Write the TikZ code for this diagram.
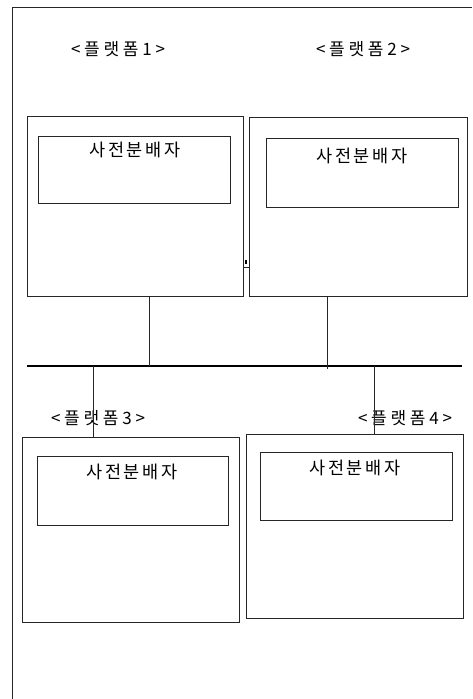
\documentclass[tikz,border=0pt]{standalone}
\usepackage{fontspec}
\newfontfamily\kr[LetterSpace=16]{Noto Sans CJK KR}
\newfontfamily\krl[LetterSpace=22]{Noto Sans CJK KR}
\begin{document}
\begin{tikzpicture}[x=1pt,y=-1pt,
  thin line/.style={line width=1pt,draw=black!85},
  outerbox/.style={thin line,rectangle,anchor=north west,inner sep=0pt},
  innerbox/.style={thin line,rectangle,anchor=north west,inner sep=0pt},
  dtext/.style={font=\kr\fontsize{17.5}{19}\selectfont,anchor=center,inner sep=0pt},
  plabel/.style={font=\krl\fontsize{17}{19}\selectfont,anchor=center,inner sep=0pt},
  bus/.style={line width=1.8pt}]
\useasboundingbox (0,0) rectangle (472,699);
% frame
\draw[thin line] (12,699) -- (12,7) -- (472,7);
% labels
\node[plabel] (l1) at (118,49) {<플랫폼1>};
\node[plabel] (l2) at (363,49) {<플랫폼2>};
\node[plabel] (l3) at (98,418) {<플랫폼3>};
\node[plabel] (l4) at (405,418) {<플랫폼4>};
% platform boxes
\node[outerbox,minimum width=216pt,minimum height=180pt] (b1) at (27,116) {};
\node[outerbox,minimum width=218pt,minimum height=179pt] (b2) at (249,117) {};
\node[outerbox,minimum width=217pt,minimum height=185pt] (b3) at (22,437) {};
\node[outerbox,minimum width=217pt,minimum height=184pt] (b4) at (246,434) {};
% inner boxes
\node[innerbox,minimum width=192pt,minimum height=67pt] (i1) at (38,136) {};
\node[innerbox,minimum width=192pt,minimum height=69pt] (i2) at (266,138) {};
\node[innerbox,minimum width=191pt,minimum height=69pt] (i3) at (37,456) {};
\node[innerbox,minimum width=192pt,minimum height=68pt] (i4) at (260,452) {};
% texts
\node[dtext] (t1) at (135,150) {사전분배자};
\node[dtext] (t2) at (362,156) {사전분배자};
\node[dtext] (t3) at (132,472) {사전분배자};
\node[dtext] (t4) at (355,468) {사전분배자};
% bus
\coordinate (busL) at (27,366);
\coordinate (busR) at (462,366);
\draw[bus] (busL) -- (busR);
\coordinate (c1) at (149,366);
\coordinate (c2) at (327,369);
\coordinate (c3) at (93,366);
\coordinate (c4) at (374,366);
\draw[thin line] (b1.south -| c1) -- (c1);
\draw[thin line] (b2.south -| c2) -- (c2);
\draw[thin line] (c3) -- (b3.north -| c3);
\draw[thin line] (c4) -- (b4.north -| c4);
% small stub between boxes 1 and 2
\coordinate (s1) at (243,267);
\draw[thin line] (s1) -- (s1 -| b2.west);
\fill (245,260) rectangle (247,264);
\end{tikzpicture}
\end{document}
